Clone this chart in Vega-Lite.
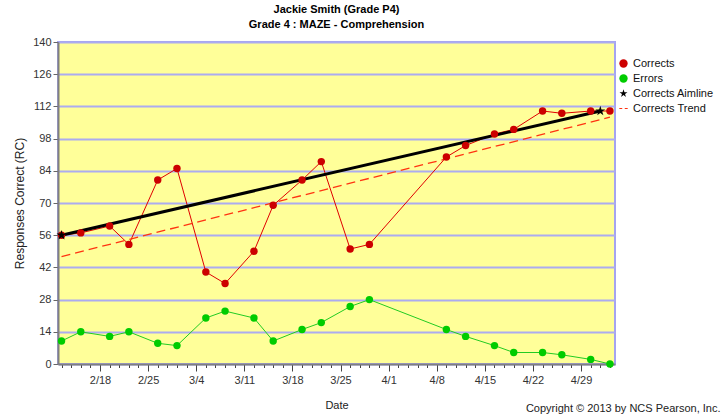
{
  "$schema": "https://vega.github.io/schema/vega-lite/v6.json",
  "width": 557,
  "height": 322,
  "autosize": "none",
  "padding": {"left": 58, "top": 42, "right": 113, "bottom": 50},
  "background": "white",
  "config": {
    "font": "Liberation Sans",
    "view": {"fill": "#ffff99", "stroke": "#a4a4f0", "strokeWidth": 2}
  },
  "title": {
    "text": "Jackie Smith (Grade P4)",
    "subtitle": "Grade 4 : MAZE - Comprehension",
    "fontSize": 11,
    "fontWeight": "bold",
    "color": "black",
    "subtitleFontSize": 11,
    "subtitleFontWeight": "bold",
    "subtitleColor": "black",
    "anchor": "middle",
    "frame": "group",
    "offset": 6,
    "subtitlePadding": 4
  },
  "data": {
    "values": [
      {"series": "Corrects", "date": "2013-02-12", "value": 56},
      {"series": "Corrects", "date": "2013-02-14", "value": 57},
      {"series": "Corrects", "date": "2013-02-19", "value": 60},
      {"series": "Corrects", "date": "2013-02-21", "value": 52},
      {"series": "Corrects", "date": "2013-02-26", "value": 80},
      {"series": "Corrects", "date": "2013-02-28", "value": 85},
      {"series": "Corrects", "date": "2013-03-05", "value": 40},
      {"series": "Corrects", "date": "2013-03-07", "value": 35},
      {"series": "Corrects", "date": "2013-03-12", "value": 49},
      {"series": "Corrects", "date": "2013-03-14", "value": 69},
      {"series": "Corrects", "date": "2013-03-19", "value": 80},
      {"series": "Corrects", "date": "2013-03-21", "value": 88},
      {"series": "Corrects", "date": "2013-03-26", "value": 50},
      {"series": "Corrects", "date": "2013-03-28", "value": 52},
      {"series": "Corrects", "date": "2013-04-09", "value": 90},
      {"series": "Corrects", "date": "2013-04-11", "value": 95},
      {"series": "Corrects", "date": "2013-04-16", "value": 100},
      {"series": "Corrects", "date": "2013-04-18", "value": 102},
      {"series": "Corrects", "date": "2013-04-23", "value": 110},
      {"series": "Corrects", "date": "2013-04-25", "value": 109},
      {"series": "Corrects", "date": "2013-04-30", "value": 110},
      {"series": "Corrects", "date": "2013-05-02", "value": 110},
      {"series": "Errors", "date": "2013-02-12", "value": 10},
      {"series": "Errors", "date": "2013-02-14", "value": 14},
      {"series": "Errors", "date": "2013-02-19", "value": 12},
      {"series": "Errors", "date": "2013-02-21", "value": 14},
      {"series": "Errors", "date": "2013-02-26", "value": 9},
      {"series": "Errors", "date": "2013-02-28", "value": 8},
      {"series": "Errors", "date": "2013-03-05", "value": 20},
      {"series": "Errors", "date": "2013-03-07", "value": 23},
      {"series": "Errors", "date": "2013-03-12", "value": 20},
      {"series": "Errors", "date": "2013-03-14", "value": 10},
      {"series": "Errors", "date": "2013-03-19", "value": 15},
      {"series": "Errors", "date": "2013-03-21", "value": 18},
      {"series": "Errors", "date": "2013-03-26", "value": 25},
      {"series": "Errors", "date": "2013-03-28", "value": 28},
      {"series": "Errors", "date": "2013-04-09", "value": 15},
      {"series": "Errors", "date": "2013-04-11", "value": 12},
      {"series": "Errors", "date": "2013-04-16", "value": 8},
      {"series": "Errors", "date": "2013-04-18", "value": 5},
      {"series": "Errors", "date": "2013-04-23", "value": 5},
      {"series": "Errors", "date": "2013-04-25", "value": 4},
      {"series": "Errors", "date": "2013-04-30", "value": 2},
      {"series": "Errors", "date": "2013-05-02", "value": 0},
      {"series": "Corrects Aimline", "date": "2013-02-12", "value": 56},
      {"series": "Corrects Aimline", "date": "2013-05-01", "value": 110},
      {"series": "Corrects Trend", "date": "2013-02-12", "value": 46.7},
      {"series": "Corrects Trend", "date": "2013-05-02", "value": 107.3}
    ]
  },
  "encoding": {
    "y": {
      "field": "value",
      "type": "quantitative",
      "scale": {"domain": [0, 140], "nice": false, "zero": true},
      "axis": {
        "values": [0, 14, 28, 42, 56, 70, 84, 98, 112, 126, 140],
        "title": "Responses Correct (RC)",
        "titleFontSize": 12,
        "titleFontWeight": "normal",
        "titleColor": "#222",
        "titlePadding": 6,
        "labelFontSize": 11,
        "labelColor": "#333",
        "labelPadding": 2,
        "tickColor": "#666",
        "tickSize": 5,
        "domainColor": "#808080",
        "domainWidth": 2,
        "gridColor": "#acacf0",
        "gridWidth": 2
      }
    }
  },
  "layer": [
    {
      "transform": [{"filter": "datum.series === 'Corrects' || datum.series === 'Errors'"}],
      "mark": {"type": "line", "strokeWidth": 1},
      "encoding": {
        "x": {
          "field": "date",
          "type": "ordinal",
          "sort": null,
          "scale": {
            "type": "point",
            "padding": 0.447,
            "align": 0.41,
            "domain": ["2013-02-12","2013-02-13","2013-02-14","2013-02-15",
              "2013-02-18","2013-02-19","2013-02-20","2013-02-21","2013-02-22",
              "2013-02-25","2013-02-26","2013-02-27","2013-02-28","2013-03-01",
              "2013-03-04","2013-03-05","2013-03-06","2013-03-07","2013-03-08",
              "2013-03-11","2013-03-12","2013-03-13","2013-03-14","2013-03-15",
              "2013-03-18","2013-03-19","2013-03-20","2013-03-21","2013-03-22",
              "2013-03-25","2013-03-26","2013-03-27","2013-03-28","2013-03-29",
              "2013-04-01","2013-04-02","2013-04-03","2013-04-04","2013-04-05",
              "2013-04-08","2013-04-09","2013-04-10","2013-04-11","2013-04-12",
              "2013-04-15","2013-04-16","2013-04-17","2013-04-18","2013-04-19",
              "2013-04-22","2013-04-23","2013-04-24","2013-04-25","2013-04-26",
              "2013-04-29","2013-04-30","2013-05-01","2013-05-02"]
          },
          "axis": {
            "title": "Date",
            "titleFontSize": 11,
            "titleFontWeight": "normal",
            "titleColor": "#222",
            "titlePadding": 14,
            "labelAngle": 0,
            "labelOverlap": false,
            "labelBound": false,
            "labelFontSize": 11,
            "labelColor": "#333",
            "labelPadding": 3,
            "labelExpr": "indexof(['2013-02-18','2013-02-25','2013-03-04','2013-03-11','2013-03-18','2013-03-25','2013-04-01','2013-04-08','2013-04-15','2013-04-22','2013-04-29'], datum.value) >= 0 ? toNumber(slice(datum.value,5,7)) + '/' + toNumber(slice(datum.value,8,10)) : ''",
            "tickSize": {
              "condition": {
                "test": "indexof(['2013-02-18','2013-02-25','2013-03-04','2013-03-11','2013-03-18','2013-03-25','2013-04-01','2013-04-08','2013-04-15','2013-04-22','2013-04-29'], datum.value) >= 0",
                "value": 7
              },
              "value": 3.5
            },
            "tickColor": "#444",
            "domainColor": "#808080",
            "domainWidth": 2,
            "grid": false
          }
        },
        "stroke": {
          "field": "series",
          "type": "nominal",
          "scale": {"domain": ["Corrects", "Errors"], "range": ["#e00000", "#22cc22"]},
          "legend": null
        }
      }
    },
    {
      "transform": [{"filter": "datum.series === 'Corrects Aimline'"}],
      "mark": {"type": "line", "strokeWidth": 3, "color": "#000000"},
      "encoding": {
        "x": {"field": "date", "type": "ordinal", "sort": null, "axis": null}
      }
    },
    {
      "transform": [{"filter": "datum.series === 'Corrects Trend'"}],
      "mark": {"type": "line", "strokeWidth": 1.3, "color": "#ff3311", "strokeDash": [9, 5]},
      "encoding": {
        "x": {
          "field": "date",
          "type": "ordinal",
          "sort": null,
          "axis": {
            "orient": "bottom",
            "domain": false,
            "ticks": false,
            "labels": false,
            "grid": false,
            "title": "Copyright © 2013 by NCS Pearson, Inc.",
            "titleFontSize": 11,
            "titleFontWeight": "normal",
            "titleColor": "#222",
            "titleAnchor": "end",
            "titleAlign": "right",
            "titleBaseline": "middle",
            "titleX": 662,
            "titleY": 44
          }
        }
      }
    },
    {
      "transform": [{"filter": "datum.series !== 'Corrects Trend'"}],
      "mark": {"type": "point", "filled": true, "opacity": 1},
      "encoding": {
        "x": {"field": "date", "type": "ordinal", "sort": null, "axis": null},
        "color": {
          "field": "series",
          "type": "nominal",
          "scale": {
            "domain": ["Corrects", "Errors", "Corrects Aimline", "Corrects Trend"],
            "range": ["#cc0000", "#00cc00", "#000000", "#ff3311"]
          },
          "legend": {
            "title": null,
            "orient": "none",
            "legendX": 560,
            "legendY": 16,
            "labelFontSize": 11,
            "labelColor": "#111",
            "labelOffset": 4,
            "symbolSize": 70,
            "rowPadding": 3
          }
        },
        "shape": {
          "field": "series",
          "type": "nominal",
          "scale": {
            "domain": ["Corrects", "Errors", "Corrects Aimline", "Corrects Trend"],
            "range": ["circle", "circle", "M0,-1L0.2245,-0.309L0.951,-0.309L0.363,0.118L0.588,0.809L0,0.382L-0.588,0.809L-0.363,0.118L-0.951,-0.309L-0.2245,-0.309Z", "M-1,-0.14L-0.3,-0.14L-0.3,0.14L-1,0.14Z M0.3,-0.14L1,-0.14L1,0.14L0.3,0.14Z"]
          }
        },
        "size": {
          "condition": {"test": "datum.series === 'Corrects Aimline'", "value": 110},
          "value": 55
        }
      }
    }
  ],
  "resolve": {"axis": {"x": "independent"}}
}
